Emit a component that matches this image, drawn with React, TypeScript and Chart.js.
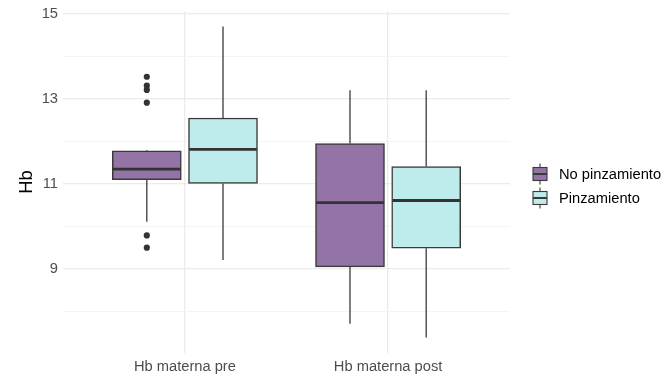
import React, { useEffect, useRef } from 'react';
import { Chart, registerables } from 'chart.js';

Chart.register(...registerables);

// ---- Data ----
const CATEGORIES = ['Hb materna pre', 'Hb materna post'];
const GROUPS = ['No pinzamiento', 'Pinzamiento'];
const GROUP_COLORS = ['#9474A6', '#BEEBEB'];

const noPinzLower = [10.11, 7.71];
const noPinzQ1 = [11.1, 9.05];
const noPinzMedian = [11.35, 10.56];
const noPinzQ3 = [11.78, 11.95];
const noPinzUpper = [11.8, 13.2];
const noPinzOutliers = [[13.52, 13.31, 13.21, 12.91, 9.79, 9.5], []];

const pinzLower = [9.21, 7.39];
const pinzQ1 = [11.01, 9.49];
const pinzMedian = [11.81, 10.61];
const pinzQ3 = [12.55, 11.41];
const pinzUpper = [14.7, 13.2];
const pinzOutliers = [[], []];

const Y_MAJOR_TICKS = [9, 11, 13, 15];
const Y_MINOR_TICKS = [8, 10, 12, 14];

const STATS = [
  { lower: noPinzLower, q1: noPinzQ1, median: noPinzMedian, q3: noPinzQ3, upper: noPinzUpper, outliers: noPinzOutliers },
  { lower: pinzLower, q1: pinzQ1, median: pinzMedian, q3: pinzQ3, upper: pinzUpper, outliers: pinzOutliers },
];

// ---- Styling / layout ----
const FONT = '"Liberation Sans", Arial, Helvetica, sans-serif';
const DODGE = 0.1875;
const LINE_COLOR = '#3A3A3A';
const GRID_COLOR = '#EBEBEB';

const xPos = (catIndex: number, groupIndex: number) =>
  catIndex + 1 + (groupIndex === 0 ? -DODGE : DODGE);

// y range with ggplot-style 5% expansion
const allValues: number[] = [];
STATS.forEach((s) => {
  allValues.push(...s.lower, ...s.upper);
  s.outliers.forEach((o) => allValues.push(...o));
});
const dataMin = Math.min(...allValues);
const dataMax = Math.max(...allValues);
const span = dataMax - dataMin;
const Y_MIN = dataMin - span * 0.05;
const Y_MAX = dataMax + span * 0.05;

const boxPlugin = {
  id: 'boxWhiskers',
  beforeDatasetsDraw(chart: any) {
    const ctx = chart.ctx;
    const y = chart.scales.y;
    ctx.save();
    ctx.strokeStyle = LINE_COLOR;
    ctx.lineWidth = 1.3;
    STATS.forEach((s, g) => {
      const meta = chart.getDatasetMeta(g);
      meta.data.forEach((el: any, i: number) => {
        const x = el.x;
        ctx.beginPath();
        ctx.moveTo(x, y.getPixelForValue(s.q3[i]));
        ctx.lineTo(x, y.getPixelForValue(s.upper[i]));
        ctx.moveTo(x, y.getPixelForValue(s.q1[i]));
        ctx.lineTo(x, y.getPixelForValue(s.lower[i]));
        ctx.stroke();
      });
    });
    ctx.restore();
  },
  afterDatasetsDraw(chart: any) {
    const ctx = chart.ctx;
    const y = chart.scales.y;
    ctx.save();
    ctx.strokeStyle = '#333333';
    ctx.lineWidth = 2.8;
    STATS.forEach((s, g) => {
      const meta = chart.getDatasetMeta(g);
      meta.data.forEach((el: any, i: number) => {
        const py = y.getPixelForValue(s.median[i]);
        ctx.beginPath();
        ctx.moveTo(el.x - el.width / 2 + 0.7, py);
        ctx.lineTo(el.x + el.width / 2 - 0.7, py);
        ctx.stroke();
      });
    });
    ctx.restore();
  },
};

const legendPlugin = {
  id: 'boxLegend',
  afterDraw(chart: any) {
    const ctx = chart.ctx;
    const left = chart.chartArea.right + 23;
    const firstY = chart.height / 2 - 15;
    ctx.save();
    GROUPS.forEach((name, g) => {
      const cy = firstY + g * 24;
      const bw = 14;
      const bh = 13;
      const cx = left + bw / 2;
      ctx.strokeStyle = LINE_COLOR;
      ctx.lineWidth = 1.1;
      ctx.beginPath();
      ctx.moveTo(cx, cy - bh / 2 - 4);
      ctx.lineTo(cx, cy - bh / 2);
      ctx.moveTo(cx, cy + bh / 2);
      ctx.lineTo(cx, cy + bh / 2 + 4);
      ctx.stroke();
      ctx.fillStyle = GROUP_COLORS[g];
      ctx.fillRect(left, cy - bh / 2, bw, bh);
      ctx.strokeRect(left, cy - bh / 2, bw, bh);
      ctx.lineWidth = 2;
      ctx.beginPath();
      ctx.moveTo(left, cy);
      ctx.lineTo(left + bw, cy);
      ctx.stroke();
      ctx.fillStyle = '#000000';
      ctx.font = `14.7px ${FONT}`;
      ctx.textBaseline = 'middle';
      ctx.textAlign = 'left';
      ctx.fillText(name, left + 26, cy + 0.5);
    });
    ctx.restore();
  },
};

export default function App() {
  const canvasRef = useRef<HTMLCanvasElement | null>(null);

  useEffect(() => {
    document.body.style.margin = '0';
    if (!canvasRef.current) return;

    const barDatasets = GROUPS.map((name, g) => ({
      type: 'bar' as const,
      label: name,
      data: CATEGORIES.map((_, i) => ({ x: xPos(i, g), y: [STATS[g].q1[i], STATS[g].q3[i]] })),
      backgroundColor: GROUP_COLORS[g],
      borderColor: LINE_COLOR,
      borderWidth: 1.5,
      borderSkipped: false,
      barThickness: 69,
      grouped: false,
      order: 2,
    }));

    const outlierData: { x: number; y: number }[] = [];
    STATS.forEach((s, g) => {
      s.outliers.forEach((list, i) => {
        list.forEach((v) => outlierData.push({ x: xPos(i, g), y: v }));
      });
    });

    const chart = new Chart(canvasRef.current, {
      type: 'bar',
      data: {
        datasets: [
          ...barDatasets,
          {
            type: 'scatter' as const,
            label: 'outliers',
            data: outlierData,
            pointRadius: 3.1,
            pointHoverRadius: 3.1,
            backgroundColor: '#333333',
            borderWidth: 0,
            order: 1,
          },
        ] as any,
      },
      options: {
        animation: false,
        responsive: false,
        events: [],
        layout: { padding: { left: 0, right: 154, top: 11, bottom: 0 } },
        plugins: {
          legend: { display: false },
          tooltip: { enabled: false },
          title: { display: false },
        },
        scales: {
          x: {
            type: 'linear',
            min: 0.4,
            max: 2.6,
            offset: false,
            afterBuildTicks: (scale: any) => {
              scale.ticks = CATEGORIES.map((_, i) => ({ value: i + 1 }));
            },
            afterFit: (scale: any) => {
              scale.height = 25;
              scale.paddingLeft = 0;
              scale.paddingRight = 0;
            },
            ticks: {
              autoSkip: false,
              maxRotation: 0,
              padding: 5,
              color: '#4D4D4D',
              font: { family: FONT, size: 14.7 },
              callback: (v: any) => CATEGORIES[Math.round(Number(v)) - 1] ?? '',
            },
            grid: { color: GRID_COLOR, lineWidth: 1.3, drawTicks: false, offset: false },
            border: { display: false },
          },
          y: {
            type: 'linear',
            min: Y_MIN,
            max: Y_MAX,
            beginAtZero: false,
            afterBuildTicks: (scale: any) => {
              scale.ticks = [...Y_MAJOR_TICKS, ...Y_MINOR_TICKS]
                .sort((a, b) => a - b)
                .map((v) => ({ value: v }));
            },
            afterFit: (scale: any) => {
              scale.width = 63;
              scale.paddingTop = 0;
              scale.paddingBottom = 0;
            },
            ticks: {
              padding: 5,
              color: '#4D4D4D',
              font: { family: FONT, size: 14.7 },
              callback: (v: any) => (Y_MAJOR_TICKS.includes(Number(v)) ? String(v) : ''),
            },
            grid: {
              color: (c: any) => (Y_MAJOR_TICKS.includes(c.tick?.value) ? GRID_COLOR : '#F1F1F1'),
              lineWidth: (c: any) => (Y_MAJOR_TICKS.includes(c.tick?.value) ? 1.3 : 0.8),
              drawTicks: false,
            },
            border: { display: false },
            title: {
              display: true,
              text: 'Hb',
              color: '#000000',
              font: { family: FONT, size: 18.3 },
              padding: { top: 16, bottom: 0 },
            },
          },
        },
      } as any,
      plugins: [boxPlugin, legendPlugin],
    });

    return () => chart.destroy();
  }, []);

  return (
    <div style={{ position: 'absolute', left: 0, top: 0, width: 664, height: 378 }}>
      <canvas ref={canvasRef} width={664} height={378} style={{ display: 'block' }} />
    </div>
  );
}
